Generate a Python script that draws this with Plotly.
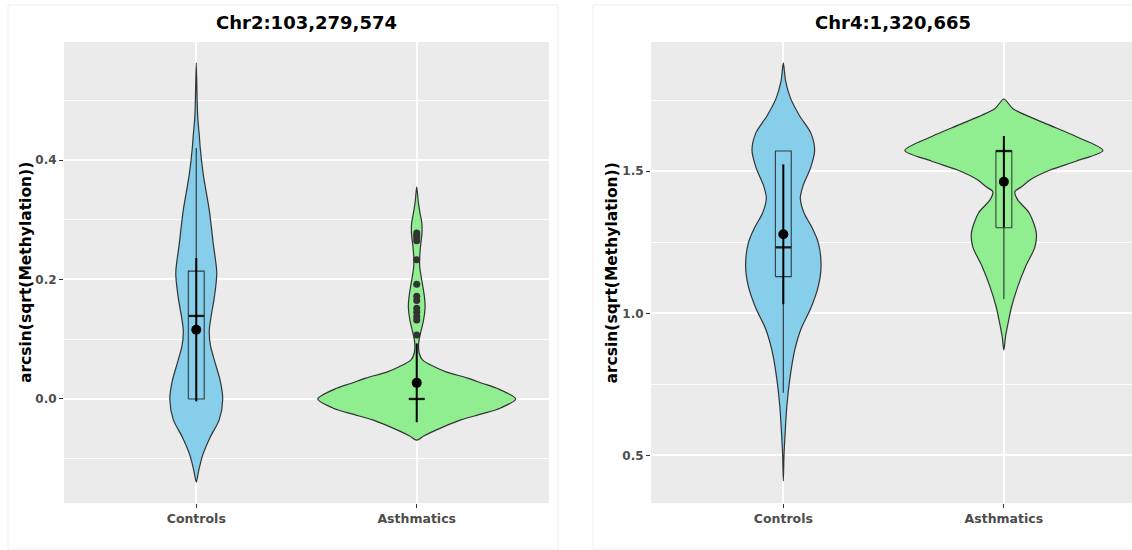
import plotly.graph_objects as go

W, H = 1132, 550

categories = ["Controls", "Asthmatics"]
panel_titles = ["Chr2:103,279,574", "Chr4:1,320,665"]
y_label = "arcsin(sqrt(Methylation))"

# Violin outlines: value levels (ascending) and half widths in category units
chr2_ctrl_y = [-0.139, -0.120, -0.094, -0.064, -0.035, 0.000, 0.030, 0.060, 0.090, 0.115,
               0.140, 0.170, 0.211, 0.260, 0.316, 0.375, 0.420, 0.440, 0.470, 0.500, 0.5625]
chr2_ctrl_w = [0.0, 0.011, 0.029, 0.063, 0.104, 0.120, 0.109, 0.086, 0.064, 0.059,
               0.068, 0.082, 0.093, 0.077, 0.059, 0.032, 0.018, 0.014, 0.007, 0.004, 0.0]

chr2_asth_y = [-0.069, -0.062, -0.053, -0.035, -0.025, -0.015, 0.000, 0.018, 0.026, 0.035,
               0.045, 0.054, 0.065, 0.077, 0.094, 0.110, 0.132, 0.154, 0.171, 0.190,
               0.205, 0.220, 0.233, 0.255, 0.278, 0.295, 0.311, 0.330, 0.355]
chr2_asth_w = [0.0, 0.032, 0.082, 0.200, 0.295, 0.381, 0.449, 0.363, 0.299, 0.231,
               0.136, 0.080, 0.027, 0.011, 0.009, 0.017, 0.031, 0.038, 0.035, 0.027,
               0.020, 0.014, 0.013, 0.017, 0.024, 0.023, 0.015, 0.007, 0.0]

chr4_ctrl_y = [0.410, 0.500, 0.575, 0.674, 0.772, 0.871, 0.945, 1.019, 1.093, 1.166,
               1.247, 1.302, 1.351, 1.405, 1.450, 1.511, 1.573, 1.634, 1.696, 1.758,
               1.819, 1.881]
chr4_ctrl_w = [0.0, 0.003, 0.008, 0.016, 0.030, 0.052, 0.080, 0.125, 0.158, 0.171,
               0.159, 0.130, 0.095, 0.077, 0.090, 0.123, 0.142, 0.125, 0.073, 0.032,
               0.010, 0.0]

chr4_asth_y = [0.871, 0.920, 0.969, 1.023, 1.094, 1.164, 1.234, 1.283, 1.353, 1.399,
               1.428, 1.445, 1.470, 1.504, 1.536, 1.573, 1.622, 1.671, 1.720, 1.754]
chr4_asth_w = [0.0, 0.008, 0.020, 0.035, 0.063, 0.098, 0.141, 0.147, 0.115, 0.063,
               0.050, 0.080, 0.120, 0.210, 0.330, 0.449, 0.327, 0.180, 0.041, 0.0]

# Box statistics (Controls, Asthmatics)
chr2_q1 = [0.0, 0.0]
chr2_median = [0.139, 0.0]
chr2_q3 = [0.214, 0.0]
chr2_lower = [0.0, 0.0]
chr2_upper = [0.420, 0.0]
chr2_mean = [0.116, 0.027]
chr2_sd = [0.120, 0.066]
chr2_asth_outliers = [0.278, 0.274, 0.270, 0.265, 0.233, 0.192, 0.172, 0.165,
                      0.152, 0.145, 0.138, 0.132, 0.107]

chr4_q1 = [1.129, 1.301]
chr4_median = [1.232, 1.571]
chr4_q3 = [1.571, 1.571]
chr4_lower = [0.720, 1.050]
chr4_upper = [1.571, 1.571]
chr4_mean = [1.278, 1.463]
chr4_sd = [0.246, 0.161]

FILLS = ["#87CEEB", "#90EE90"]
OUTLINE = "#333333"
BOX_LINE = "rgba(35,35,35,0.85)"
BOX_HALF = 0.036
FONT = "DejaVu Sans"

fig = go.Figure()


def line_trace(xs, ys, color, width, xa, ya):
    fig.add_trace(go.Scatter(
        x=xs, y=ys, mode="lines", line=dict(color=color, width=width),
        xaxis=xa, yaxis=ya, hoverinfo="skip", showlegend=False))


def violin(pos, ys, ws, color, xa, ya):
    # right side bottom->top, then left side top->bottom back to the tip
    xs = [pos + w for w in ws] + [pos - w for w in reversed(ws[:-1])]
    yy = list(ys) + list(reversed(ys[:-1]))
    fig.add_trace(go.Scatter(
        x=xs, y=yy, mode="lines", fill="toself", fillcolor=color,
        line=dict(color=OUTLINE, width=1.2, shape="spline", smoothing=0.8),
        xaxis=xa, yaxis=ya, hoverinfo="skip", showlegend=False))


def boxes(q1, med, q3, lo, hi, xa, ya):
    for i in range(2):
        pos = i + 1
        left, right = pos - BOX_HALF, pos + BOX_HALF
        # whiskers
        if hi[i] > q3[i]:
            line_trace([pos, pos], [q3[i], hi[i]], BOX_LINE, 1.2, xa, ya)
        if lo[i] < q1[i]:
            line_trace([pos, pos], [lo[i], q1[i]], BOX_LINE, 1.2, xa, ya)
        # hinges
        line_trace([left, right, right, left, left],
                   [q1[i], q1[i], q3[i], q3[i], q1[i]], BOX_LINE, 1.1, xa, ya)
        # median
        line_trace([left, right], [med[i], med[i]], "#1a1a1a", 2.3, xa, ya)


def mean_sd(mean, sd, xa, ya):
    fig.add_trace(go.Scatter(
        x=[1, 2], y=mean, mode="markers",
        marker=dict(color="black", size=10),
        error_y=dict(type="data", array=sd, width=0, thickness=2, color="black"),
        xaxis=xa, yaxis=ya, hoverinfo="skip", showlegend=False))


# Chr2 panel
violin(1, chr2_ctrl_y, chr2_ctrl_w, FILLS[0], "x", "y")
violin(2, chr2_asth_y, chr2_asth_w, FILLS[1], "x", "y")
boxes(chr2_q1, chr2_median, chr2_q3, chr2_lower, chr2_upper, "x", "y")
fig.add_trace(go.Scatter(
    x=[2] * len(chr2_asth_outliers), y=chr2_asth_outliers, mode="markers",
    marker=dict(color="#333333", size=7), xaxis="x", yaxis="y",
    hoverinfo="skip", showlegend=False))
mean_sd(chr2_mean, chr2_sd, "x", "y")

# Chr4 panel
violin(1, chr4_ctrl_y, chr4_ctrl_w, FILLS[0], "x2", "y2")
violin(2, chr4_asth_y, chr4_asth_w, FILLS[1], "x2", "y2")
boxes(chr4_q1, chr4_median, chr4_q3, chr4_lower, chr4_upper, "x2", "y2")
mean_sd(chr4_mean, chr4_sd, "x2", "y2")

tick_font_x = dict(family=FONT, size=12.5, color="#4D4D4D", weight="bold")
tick_font_y = dict(family=FONT, size=12, color="#4D4D4D", weight="bold")
ydom = [1 - 503 / H, 1 - 42 / H]


def xaxis_cfg(domain, rng, anchor):
    return dict(domain=domain, range=rng, anchor=anchor, tickmode="array",
                tickvals=[1, 2], ticktext=categories, showgrid=True,
                gridcolor="white", gridwidth=1.6, zeroline=False, ticks="outside",
                ticklen=4, tickwidth=1, tickcolor="#333333", tickfont=tick_font_x,
                showline=False, fixedrange=True)


def yaxis_cfg(rng, vals, texts, minor_vals, anchor):
    return dict(domain=ydom, range=rng, anchor=anchor, tickmode="array",
                tickvals=vals, ticktext=texts, showgrid=True, gridcolor="white",
                gridwidth=1.6, zeroline=False, ticks="outside", ticklen=4,
                tickwidth=1, tickcolor="#333333", tickfont=tick_font_y,
                minor=dict(tickmode="array", tickvals=minor_vals, showgrid=True,
                           gridcolor="white", gridwidth=0.8, ticks=""),
                showline=False, fixedrange=True)


fig.update_layout(
    width=W, height=H,
    margin=dict(l=0, r=0, t=0, b=0),
    paper_bgcolor="white", plot_bgcolor="#EBEBEB",
    xaxis=xaxis_cfg([64 / W, 549 / W], [0.4, 2.6], "y"),
    yaxis=yaxis_cfg([-0.1741, 0.5975], [0.0, 0.2, 0.4], ["0.0", "0.2", "0.4"],
                    [-0.1, 0.1, 0.3, 0.5], "x"),
    xaxis2=xaxis_cfg([651 / W, 1.0], [0.4, 2.581], "y2"),
    yaxis2=yaxis_cfg([0.3325, 1.9546], [0.5, 1.0, 1.5], ["0.5", "1.0", "1.5"],
                     [0.75, 1.25, 1.75], "x2"),
    showlegend=False,
)

# Faint card outlines around each plot
for x0, x1 in [(8, 558), (593, 1140)]:
    fig.add_shape(type="rect", xref="paper", yref="paper",
                  x0=x0 / W, x1=x1 / W, y0=1 - 549 / H, y1=1 - 5 / H,
                  line=dict(color="#EFEFEF", width=1), fillcolor="rgba(0,0,0,0)",
                  layer="below")

# Panel titles and y-axis labels
for cx, title in [((64 + 549) / 2, panel_titles[0]), ((651 + 1135) / 2, panel_titles[1])]:
    fig.add_annotation(x=cx / W, y=1 - 22 / H, xref="paper", yref="paper",
                       text=title, showarrow=False, xanchor="center", yanchor="middle",
                       font=dict(family=FONT, size=18, color="black", weight="bold"))
for lx in [25.5, 611]:
    fig.add_annotation(x=lx / W, y=1 - 272.5 / H, xref="paper", yref="paper",
                       text=y_label, showarrow=False, textangle=-90,
                       xanchor="center", yanchor="middle",
                       font=dict(family=FONT, size=15.5, color="black", weight="bold"))

fig.write_html("out.html")
